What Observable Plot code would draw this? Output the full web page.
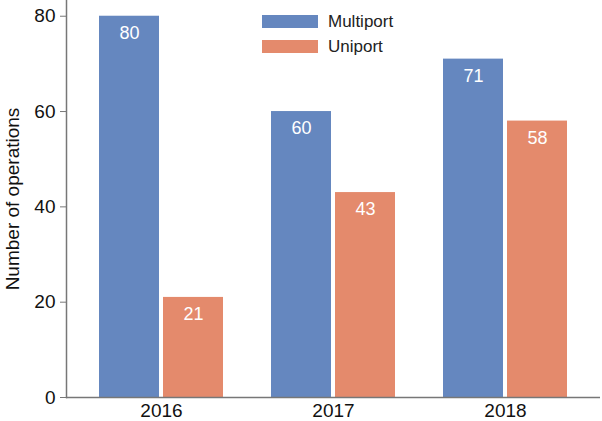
<!DOCTYPE html>
<html>
<head>
<meta charset="utf-8">
<script src="https://cdn.jsdelivr.net/npm/d3@7"></script>
<script src="https://cdn.jsdelivr.net/npm/@observablehq/plot@0.6"></script>
<style>
  html, body { margin: 0; padding: 0; background: #fff; }
  #wrap { position: relative; width: 602px; height: 421px; font-family: "Liberation Sans", Arial, Helvetica, sans-serif; }
  #legend { position: absolute; left: 262px; top: 15px; font-size: 17px; color: #222; }
  .item { display: flex; align-items: center; height: 13px; margin-bottom: 12px; }
  .sw { width: 56px; height: 13px; margin-right: 10px; }
</style>
</head>
<body>
<div id="wrap"><div id="legend"></div></div>
<script>
const years = ["2016", "2017", "2018"];
const seriesNames = ["Multiport", "Uniport"];
const multiport = [80, 60, 71];
const uniport = [21, 43, 58];
const colors = ["#6587bf", "#e48a6c"];
const yTicks = [0, 20, 40, 60, 80];
const yLabel = "Number of operations";

const multiData = years.map((y, i) => ({year: y, series: seriesNames[0], value: multiport[i]}));
const uniData = years.map((y, i) => ({year: y, series: seriesNames[1], value: uniport[i]}));

const font = "Liberation Sans, Arial, Helvetica, sans-serif";

const chart = Plot.plot({
  width: 602,
  height: 421,
  marginLeft: 66,
  marginRight: 2,
  marginTop: 0,
  marginBottom: 24,
  style: {fontFamily: font, color: "#111", background: "#fff"},
  x: {domain: years, paddingInner: 0.277, paddingOuter: 0.182},
  y: {domain: [0, 83.3]},
  color: {domain: seriesNames, range: colors},
  marks: [
    Plot.barY(multiData, {x: "year", y: "value", fill: "series", insetRight: 64}),
    Plot.barY(uniData, {x: "year", y: "value", fill: "series", insetLeft: 64}),
    Plot.text(multiData, {x: "year", y: "value", text: d => String(d.value), dx: -32, dy: 17, fill: "white", fontSize: 18}),
    Plot.text(uniData, {x: "year", y: "value", text: d => String(d.value), dx: 32, dy: 17, fill: "white", fontSize: 18}),
    Plot.axisX({label: null, tickSize: 0, tickPadding: 6, fontSize: 19, fill: "#111"}),
    Plot.axisY({ticks: yTicks, label: null, tickSize: 6, tickPadding: 5, fontSize: 19, fill: "#111", stroke: "#777"}),
    Plot.text([yLabel], {frameAnchor: "left", textAnchor: "middle", dx: -54, rotate: -90, fontSize: 19, fill: "#111", text: d => d}),
    Plot.frame({anchor: "left", stroke: "#777", strokeWidth: 1.5}),
    Plot.ruleY([0], {stroke: "#777", strokeWidth: 1.5})
  ]
});
document.getElementById("wrap").prepend(chart);

const legend = document.getElementById("legend");
seriesNames.forEach((name, i) => {
  const item = document.createElement("div");
  item.className = "item";
  const sw = document.createElement("div");
  sw.className = "sw";
  sw.style.background = colors[i];
  const label = document.createElement("span");
  label.textContent = name;
  item.append(sw, label);
  legend.append(item);
});
</script>
</body>
</html>
